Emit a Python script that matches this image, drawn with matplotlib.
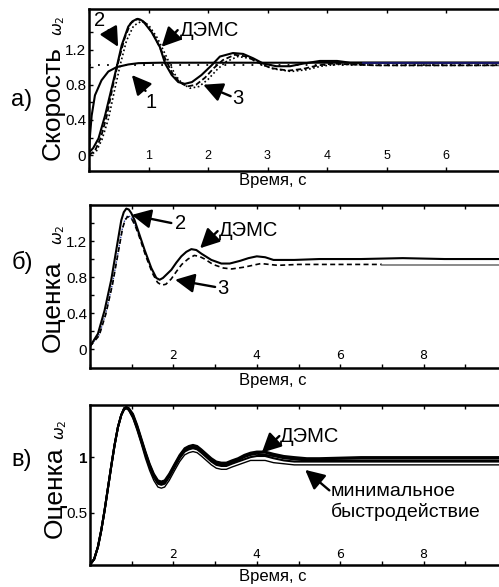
import numpy as np
import matplotlib
matplotlib.use("Agg")
import matplotlib.pyplot as plt
from matplotlib.ticker import FixedLocator, FixedFormatter

plt.rcParams['font.family'] = ['Liberation Sans', 'DejaVu Sans']

# panel a: speed, reference and three responses
a_ref = 1.02
a1_t = [0, 0.02, 0.045, 0.1, 0.21, 0.325, 0.465, 0.66, 0.83, 1.2, 7]
a1_v = [0.05, 0.25, 0.45, 0.68, 0.85, 0.95, 1.0, 1.03, 1.045, 1.05, 1.05]
adems_t = [0, 0.07, 0.16, 0.27, 0.38, 0.465, 0.55, 0.66, 0.73, 0.80, 0.86, 0.91, 1.05, 1.19,
           1.28, 1.39, 1.5, 1.61, 1.73, 1.89, 2.06, 2.2, 2.42, 2.59, 2.76, 2.93, 3.15, 3.38,
           3.6, 3.88, 4.17, 4.39, 4.7, 5.2, 6, 7]
adems_v = [0.03, 0.08, 0.19, 0.45, 0.76, 1.0, 1.25, 1.46, 1.52, 1.545, 1.54, 1.52, 1.40, 1.23,
           1.04, 0.91, 0.83, 0.81, 0.83, 0.91, 1.02, 1.12, 1.16, 1.15, 1.10, 1.04, 1.01, 1.01,
           1.04, 1.07, 1.07, 1.05, 1.05, 1.05, 1.05, 1.05]
a2_t = [0, 0.1, 0.2, 0.3, 0.4, 0.5, 0.6, 0.7, 0.82, 0.95, 1.1, 1.25, 1.4, 1.52, 1.65, 1.8,
        1.95, 2.1, 2.25, 2.45, 2.65, 2.85, 3.05, 3.35, 3.6, 3.85, 4.1, 4.4, 4.8, 5.5, 7]
a2_v = [0.0, 0.05, 0.2, 0.45, 0.78, 1.08, 1.33, 1.5, 1.55, 1.5, 1.35, 1.14, 0.93, 0.83, 0.78,
        0.80, 0.88, 0.99, 1.08, 1.14, 1.12, 1.05, 0.99, 0.96, 0.98, 1.02, 1.04, 1.03, 1.02,
        1.02, 1.02]
a3_t = [0, 0.12, 0.22, 0.33, 0.43, 0.53, 0.63, 0.75, 0.88, 1.0, 1.15, 1.3, 1.45, 1.57, 1.7,
        1.85, 2.0, 2.15, 2.3, 2.5, 2.7, 2.9, 3.1, 3.4, 3.65, 3.9, 4.15, 4.45, 4.85, 5.5, 7]
a3_v = [0.0, 0.04, 0.18, 0.42, 0.74, 1.04, 1.3, 1.47, 1.52, 1.48, 1.33, 1.12, 0.91, 0.81,
        0.76, 0.78, 0.86, 0.97, 1.06, 1.12, 1.10, 1.03, 0.98, 0.95, 0.97, 1.01, 1.03, 1.03,
        1.02, 1.02, 1.02]
anavy_t = [4.6, 7]
anavy_v = [1.05, 1.05]

# panel b: estimate
bdems_t = [0, 0.19, 0.35, 0.51, 0.63, 0.75, 0.81, 0.87, 0.93, 0.99, 1.07, 1.15, 1.31, 1.47,
           1.59, 1.67, 1.75, 1.95, 2.07, 2.19, 2.31, 2.43, 2.55, 2.67, 2.91, 3.15, 3.35, 3.6,
           3.8, 4.0, 4.2, 4.4, 4.9, 5.5, 6.5, 7.5, 8.5, 10]
bdems_v = [0.03, 0.17, 0.43, 0.77, 1.1, 1.43, 1.52, 1.56, 1.55, 1.51, 1.43, 1.32, 1.1, 0.9,
           0.79, 0.77, 0.79, 0.88, 0.96, 1.03, 1.08, 1.11, 1.10, 1.06, 0.99, 0.95, 0.95, 0.98,
           1.01, 1.03, 1.02, 0.99, 0.99, 1.0, 1.0, 1.01, 1.0, 1.0]
b3_t = [0, 0.22, 0.38, 0.54, 0.66, 0.78, 0.84, 0.9, 0.96, 1.02, 1.1, 1.18, 1.34, 1.5, 1.62,
        1.72, 1.82, 1.95, 2.07, 2.2, 2.35, 2.5, 2.62, 2.75, 2.95, 3.2, 3.4, 3.7, 4.1, 4.5, 5.0,
        5.5, 6.5, 7.0]
b3_v = [0.03, 0.15, 0.39, 0.72, 1.03, 1.34, 1.43, 1.47, 1.46, 1.43, 1.35, 1.25, 1.03, 0.84,
        0.74, 0.71, 0.72, 0.78, 0.86, 0.94, 1.0, 1.04, 1.03, 1.0, 0.94, 0.9, 0.89, 0.91, 0.95,
        0.93, 0.94, 0.94, 0.94, 0.94]
bgrey_t = [7.0, 10]
bgrey_v = [0.935, 0.935]
bblue_t = [0, 0.22, 0.38, 0.54, 0.66, 0.78, 0.84, 0.9, 0.96, 1.02, 1.1, 1.18]
bblue_v = [0.03, 0.16, 0.4, 0.73, 1.04, 1.35, 1.44, 1.48, 1.47, 1.44, 1.36, 1.26]

# panel c: family of estimates (top curve = ДЭМС, bottom = minimum speed of response)
c_t = [0, 0.1, 0.19, 0.27, 0.35, 0.43, 0.51, 0.59, 0.67, 0.75,
       0.82, 0.87, 0.93, 1.03, 1.13, 1.23, 1.33, 1.43, 1.53, 1.63,
       1.71, 1.79, 1.9, 2.03, 2.15, 2.27, 2.37, 2.47, 2.57, 2.67,
       2.79, 2.91, 3.03, 3.15, 3.27, 3.4, 3.55, 3.7, 3.85, 4.0,
       4.2, 4.4, 4.65, 4.9, 5.2, 5.5, 6.5, 8, 10]
c1_v = [0.03, 0.08, 0.19, 0.34, 0.52, 0.72, 0.92, 1.11, 1.27, 1.38,
        1.44, 1.45, 1.44, 1.39, 1.29, 1.17, 1.05, 0.94, 0.85, 0.79,
        0.78, 0.79, 0.85, 0.94, 1.02, 1.08, 1.10, 1.11, 1.10, 1.07,
        1.03, 0.99, 0.96, 0.95, 0.95, 0.97, 0.99, 1.02, 1.04, 1.05,
        1.05, 1.03, 1.01, 1.0, 0.99, 0.99, 1.0, 1.0, 1.0]
c2_v = [0.03, 0.08, 0.19, 0.34, 0.52, 0.72, 0.92, 1.11, 1.27, 1.38,
        1.44, 1.45, 1.44, 1.38, 1.28, 1.16, 1.04, 0.93, 0.84, 0.78,
        0.77, 0.78, 0.84, 0.93, 1.01, 1.07, 1.09, 1.10, 1.09, 1.06,
        1.02, 0.98, 0.95, 0.94, 0.94, 0.96, 0.98, 1.01, 1.03, 1.04,
        1.04, 1.02, 1.0, 0.99, 0.98, 0.98, 0.99, 0.99, 0.99]
c3_v = [0.03, 0.08, 0.19, 0.34, 0.52, 0.72, 0.92, 1.11, 1.27, 1.38,
        1.44, 1.45, 1.43, 1.37, 1.27, 1.15, 1.03, 0.92, 0.83, 0.77,
        0.76, 0.77, 0.83, 0.92, 1.0, 1.06, 1.08, 1.09, 1.08, 1.05,
        1.01, 0.97, 0.94, 0.93, 0.93, 0.95, 0.97, 1.0, 1.02, 1.03,
        1.02, 1.01, 0.99, 0.98, 0.97, 0.97, 0.97, 0.97, 0.97]
c4_v = [0.03, 0.08, 0.19, 0.34, 0.52, 0.72, 0.92, 1.11, 1.27, 1.38,
        1.43, 1.44, 1.43, 1.36, 1.26, 1.14, 1.02, 0.91, 0.82, 0.76,
        0.75, 0.76, 0.82, 0.91, 0.99, 1.05, 1.07, 1.08, 1.07, 1.04,
        1.0, 0.96, 0.93, 0.92, 0.92, 0.94, 0.96, 0.98, 1.0, 1.01,
        1.01, 0.99, 0.97, 0.96, 0.96, 0.96, 0.96, 0.96, 0.96]
c5_v = [0.03, 0.08, 0.19, 0.34, 0.52, 0.72, 0.92, 1.11, 1.27, 1.38,
        1.43, 1.44, 1.42, 1.35, 1.24, 1.12, 0.99, 0.88, 0.79, 0.73,
        0.72, 0.73, 0.79, 0.88, 0.96, 1.02, 1.04, 1.05, 1.04, 1.01,
        0.97, 0.93, 0.90, 0.89, 0.89, 0.91, 0.93, 0.95, 0.97, 0.97,
        0.97, 0.95, 0.94, 0.93, 0.93, 0.93, 0.93, 0.93, 0.93]

W, H = 499, 587
fig = plt.figure(figsize=(W / 100, H / 100), dpi=100)


def px_axes(x0, top, bottom, width):
    return fig.add_axes([x0 / W, 1 - bottom / H, width / W, (bottom - top) / H])


def style(ax, xmax, xlabels, yticks, ylabels, yminor, xfs, yfs, xpad):
    for s in ax.spines.values():
        s.set_linewidth(1.8)
    ax.set_xlim(0, xmax)
    ax.xaxis.set_major_locator(FixedLocator(list(range(0, xmax + 1))))
    ax.xaxis.set_major_formatter(FixedFormatter(xlabels))
    ax.yaxis.set_major_locator(FixedLocator(yticks))
    ax.yaxis.set_major_formatter(FixedFormatter(ylabels))
    ax.yaxis.set_minor_locator(FixedLocator(yminor))
    ax.tick_params(axis='both', which='both', direction='in', top=True, right=True,
                   width=1, length=3)
    ax.tick_params(axis='x', labelsize=xfs, pad=xpad)
    ax.tick_params(axis='y', labelsize=yfs, pad=2)


def arrow(ax, head, tail):
    ax.annotate('', xy=head, xytext=tail,
                arrowprops=dict(arrowstyle='-|>,head_length=0.9,head_width=0.45',
                                mutation_scale=13, color='black', lw=1.7,
                                shrinkA=0, shrinkB=0))


def label(ax, text, pos, ha='center', size=14.5):
    ax.text(pos[0], pos[1], text, fontsize=size, ha=ha, va='center')


# ---- a)
ax = px_axes(89, 9, 171, 7 * 59.5)
ax.set_ylim(-0.18, 1.66)
ax.axhline(a_ref, color='black', ls=(0, (1, 4)), lw=1.3)
ax.plot(a1_t, a1_v, color='black', lw=1.5)
ax.plot(adems_t, adems_v, color='black', lw=1.5)
ax.plot(a2_t, a2_v, color='black', lw=1.3, ls=(0, (3, 1.5)))
ax.plot(a3_t, a3_v, color='black', lw=1.2, ls=(0, (1, 1.5)))
ax.plot(anavy_t, anavy_v, color='#1a1a7a', lw=1.2)
style(ax, 7, ['', '1', '2', '3', '4', '5', '6', ''], [0, 0.4, 0.8, 1.2], ['0', '0.4', '0.8', '1.2'],
      [0.2, 0.6, 1.0, 1.4], 9, 11, -15)
arrow(ax, (0.49, 1.23), (0.33, 1.42))
label(ax, '2', (0.185, 1.53))
arrow(ax, (1.22, 1.23), (1.49, 1.42))
label(ax, 'ДЭМС', (1.53, 1.42), ha='left')
arrow(ax, (0.72, 0.91), (0.95, 0.73))
label(ax, '1', (1.05, 0.60))
arrow(ax, (1.92, 0.80), (2.38, 0.67))
label(ax, '3', (2.5, 0.64))

# ---- b)
bx = px_axes(90, 205, 368, 10 * 41.7)
bx.set_ylim(-0.21, 1.6)
bx.plot(bblue_t, bblue_v, color='#2a3a9a', lw=1.0, ls=(0, (1, 1)))
bx.plot(b3_t, b3_v, color='black', lw=1.2, ls=(0, (3, 2)))
bx.plot(bgrey_t, bgrey_v, color='#777777', lw=1.2)
bx.plot(bdems_t, bdems_v, color='black', lw=1.5)
style(bx, 10, ['', '', '2', '', '4', '', '6', '', '8', '', ''], [0, 0.4, 0.8, 1.2],
      ['0', '0.4', '0.8', '1.2'], [0.2, 0.6, 1.0, 1.4], 9, 11, -13.5)
for lab in bx.get_xticklabels():
    lab.set_family('DejaVu Sans')
arrow(bx, (1.0, 1.49), (1.95, 1.40))
label(bx, '2', (2.16, 1.40))
arrow(bx, (2.64, 1.12), (3.06, 1.31))
label(bx, 'ДЭМС', (3.1, 1.32), ha='left')
arrow(bx, (2.04, 0.77), (3.0, 0.69))
label(bx, '3', (3.18, 0.67))

# ---- c)
cx = px_axes(90, 405, 565, 10 * 41.7)
cx.set_ylim(0.027, 1.47)
for v in [c1_v, c2_v, c3_v, c4_v]:
    cx.plot(c_t, v, color='black', lw=1.5)
cx.plot(c_t, c5_v, color='black', lw=1.0)
style(cx, 10, ['', '', '2', '', '4', '', '6', '', '8', '', ''], [0.5, 1.0], ['0.5', '1'],
      [], 9, 11, -12)
for lab in cx.get_xticklabels():
    lab.set_family('DejaVu Sans')
cx.get_yticklabels()[1].set_fontweight('bold')
arrow(cx, (4.12, 1.04), (4.54, 1.19))
label(cx, 'ДЭМС', (4.56, 1.19), ha='left')
arrow(cx, (5.16, 0.885), (5.74, 0.70))
label(cx, 'минимальное', (5.78, 0.69), ha='left', size=14)
label(cx, 'быстродействие', (5.78, 0.51), ha='left', size=14)

# panel letters, axis titles
for (y, letter) in [(100, 'а)'), (262, 'б)'), (460, 'в)')]:
    fig.text(22 / W, 1 - y / H, letter, fontsize=17, ha='center', va='center')
for (x, ybot, word, ywo) in [(53, 160, 'Скорость', 26), (53, 352, 'Оценка', 235), (55, 538, 'Оценка', 430)]:
    fig.text(x / W, 1 - ybot / H, word, fontsize=19, rotation=90, ha='center', va='bottom')
    fig.text((x + 6) / W, 1 - ywo / H, r'$\omega_2$', fontsize=11, rotation=90, ha='center',
             va='center')
for y in [181, 381, 577]:
    fig.text(273 / W, 1 - y / H, 'Время, с', fontsize=12, ha='center', va='center')

fig.savefig('out.png', dpi=100)
